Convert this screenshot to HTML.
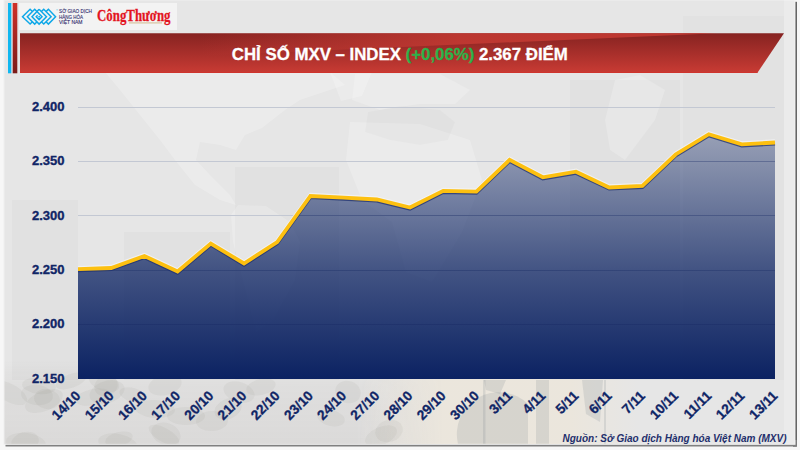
<!DOCTYPE html>
<html><head><meta charset="utf-8">
<style>
html,body{margin:0;padding:0;width:800px;height:450px;overflow:hidden;background:#f7f7f7;}
svg{position:absolute;left:0;top:0;display:block;}
text{font-family:"Liberation Sans",sans-serif;}
</style></head>
<body>
<svg width="800" height="450" viewBox="0 0 800 450">
<defs>
  <linearGradient id="ban" x1="0" y1="0" x2="0" y2="1">
    <stop offset="0" stop-color="#862321"/>
    <stop offset="1" stop-color="#c93b34"/>
  </linearGradient>
  <linearGradient id="redbar" x1="0" y1="0" x2="0" y2="1">
    <stop offset="0" stop-color="#cf3129"/>
    <stop offset="1" stop-color="#7a1c1a"/>
  </linearGradient>
  <linearGradient id="fill" x1="0" y1="107" x2="0" y2="379" gradientUnits="userSpaceOnUse">
    <stop offset="0" stop-color="#0b2262" stop-opacity="0.27"/>
    <stop offset="0.158" stop-color="#0b2262" stop-opacity="0.39"/>
    <stop offset="0.607" stop-color="#0b2262" stop-opacity="0.75"/>
    <stop offset="1" stop-color="#0b2262" stop-opacity="1"/>
  </linearGradient>
  <linearGradient id="gloss" x1="200" y1="0" x2="717" y2="0" gradientUnits="userSpaceOnUse">
    <stop offset="0" stop-color="#c43a33" stop-opacity="0"/>
    <stop offset="0.5" stop-color="#c43a33" stop-opacity="0.85"/>
    <stop offset="1" stop-color="#c43a33" stop-opacity="0.9"/>
  </linearGradient>
  <linearGradient id="btm" x1="0" y1="360" x2="0" y2="444" gradientUnits="userSpaceOnUse">
    <stop offset="0" stop-color="#7a7068" stop-opacity="0"/>
    <stop offset="0.3" stop-color="#7a7068" stop-opacity="0.06"/>
    <stop offset="1" stop-color="#7a7068" stop-opacity="0.1"/>
  </linearGradient>
  <linearGradient id="warm" x1="360" y1="0" x2="640" y2="0" gradientUnits="userSpaceOnUse">
    <stop offset="0" stop-color="#f7e6c6" stop-opacity="0"/>
    <stop offset="0.3" stop-color="#f7e6c6" stop-opacity="0.3"/>
    <stop offset="0.75" stop-color="#f7e6c6" stop-opacity="0.3"/>
    <stop offset="1" stop-color="#f7e6c6" stop-opacity="0"/>
  </linearGradient>
  <linearGradient id="fadeRg" x1="4" y1="0" x2="444" y2="0" gradientUnits="userSpaceOnUse">
    <stop offset="0.8" stop-color="#fff"/>
    <stop offset="1" stop-color="#000"/>
  </linearGradient>
  <mask id="fadeR" maskUnits="userSpaceOnUse" x="0" y="0" width="800" height="450"><rect x="0" y="0" width="800" height="450" fill="url(#fadeRg)"/></mask>
  <filter id="blur1" x="-5%" y="-5%" width="110%" height="110%"><feGaussianBlur stdDeviation="0.6"/></filter>
</defs>

<!-- panel -->
<rect x="793" y="1.8" width="3.9" height="444.8" fill="#555555" filter="url(#blur1)"/>
<rect x="5.5" y="440" width="791.3" height="6.5" fill="#808080" filter="url(#blur1)"/>
<rect x="4" y="0" width="791" height="444.3" fill="#e6e6e6"/>
<rect x="4" y="0" width="791" height="444.3" fill="none" stroke="#f0f0f0" stroke-width="1"/>
<!-- background textures -->
<g fill="#ffffff" fill-opacity="0.22">
  <polygon points="105,72 330,72 345,85 300,100 285,110 262,128 245,135 236,150 220,145 200,142 196,160 210,175 230,195 236,205 220,200 195,185 175,160 160,140 140,115 120,90"/>
  <polygon points="238,205 266,206 290,222 300,242 295,280 272,322 256,332 246,292 233,242 231,215"/>
  <polygon points="330,72 372,72 362,96 341,101"/>
  <polygon points="350,122 420,124 470,140 482,180 462,232 432,282 406,272 392,222 362,200 346,160"/>
</g>
<g fill="#000000" fill-opacity="0.018">
  <rect x="570" y="80" width="110" height="300"/>
  <rect x="235" y="167" width="104" height="213"/>
  <rect x="124" y="232" width="106" height="148"/>
  <rect x="12" y="200" width="66" height="180"/>
</g>
<g fill="#000000" fill-opacity="0.02">
  <polygon points="368,112 400,106 440,110 455,122 448,140 420,145 390,140 365,132"/>
</g>
<g fill="#ffffff" fill-opacity="0.2">
  <polygon points="615,80 640,75 665,90 655,120 640,140 625,160 610,150 605,120"/>
  <polygon points="355,74 440,74 470,90 455,104 420,104 380,110 352,100"/>
  <rect x="784" y="0" width="11" height="444"/>
</g>
<rect x="683" y="16" width="101" height="364" fill="#000" fill-opacity="0.015"/>

<rect x="4.5" y="360" width="440" height="84" fill="url(#btm)" mask="url(#fadeR)"/>
<clipPath id="pclip"><rect x="4.5" y="0" width="790" height="443.8"/></clipPath>
<rect x="360" y="379" width="280" height="65" fill="url(#warm)"/>
<g clip-path="url(#pclip)" fill="#4d5a70" fill-opacity="0.13">
  <path d="M458,444 A42,42 0 0 1 528,404 L528,444 Z"/>
  <rect x="536" y="380" width="13" height="64"/>
  <rect x="483" y="380" width="2.5" height="64"/>
  <polygon points="484,380 506,380 500,394 486,390"/>
  <polygon points="582,380 603,380 600,422 586,414"/>
  <rect x="604" y="380" width="2" height="64"/>
</g>
<g clip-path="url(#pclip)" fill="#6e6058" fill-opacity="0.06">
<ellipse cx="186" cy="416" rx="19" ry="9" transform="rotate(0 186 416)"/>
<ellipse cx="239" cy="392" rx="16" ry="10" transform="rotate(18 239 392)"/>
<ellipse cx="47" cy="399" rx="13" ry="10" transform="rotate(12 47 399)"/>
<ellipse cx="26" cy="443" rx="20" ry="10" transform="rotate(7 26 443)"/>
<ellipse cx="71" cy="381" rx="16" ry="7" transform="rotate(-19 71 381)"/>
<ellipse cx="104" cy="382" rx="16" ry="9" transform="rotate(21 104 382)"/>
<ellipse cx="212" cy="421" rx="16" ry="10" transform="rotate(-3 212 421)"/>
<ellipse cx="118" cy="444" rx="20" ry="10" transform="rotate(12 118 444)"/>
<ellipse cx="133" cy="395" rx="14" ry="7" transform="rotate(16 133 395)"/>
<ellipse cx="166" cy="434" rx="15" ry="11" transform="rotate(21 166 434)"/>
<ellipse cx="10" cy="393" rx="19" ry="9" transform="rotate(29 10 393)"/>
<ellipse cx="165" cy="385" rx="17" ry="10" transform="rotate(-14 165 385)"/>
<ellipse cx="44" cy="401" rx="20" ry="10" transform="rotate(-23 44 401)"/>
<ellipse cx="106" cy="386" rx="12" ry="10" transform="rotate(-19 106 386)"/>
<ellipse cx="228" cy="409" rx="14" ry="10" transform="rotate(-22 228 409)"/>
<ellipse cx="261" cy="387" rx="15" ry="8" transform="rotate(-14 261 387)"/>
<ellipse cx="389" cy="431" rx="14" ry="11" transform="rotate(-17 389 431)"/>
<ellipse cx="164" cy="435" rx="17" ry="7" transform="rotate(29 164 435)"/>
<ellipse cx="93" cy="397" rx="18" ry="8" transform="rotate(-12 93 397)"/>
<ellipse cx="39" cy="386" rx="17" ry="8" transform="rotate(6 39 386)"/>
<ellipse cx="155" cy="409" rx="20" ry="9" transform="rotate(4 155 409)"/>
<ellipse cx="348" cy="392" rx="13" ry="11" transform="rotate(19 348 392)"/>
<ellipse cx="107" cy="392" rx="18" ry="11" transform="rotate(-18 107 392)"/>
<ellipse cx="381" cy="436" rx="17" ry="9" transform="rotate(-24 381 436)"/>
<ellipse cx="25" cy="442" rx="14" ry="10" transform="rotate(-15 25 442)"/>
<ellipse cx="331" cy="418" rx="14" ry="8" transform="rotate(13 331 418)"/>
<ellipse cx="37" cy="395" rx="16" ry="10" transform="rotate(7 37 395)"/>
<ellipse cx="119" cy="439" rx="14" ry="7" transform="rotate(-14 119 439)"/>
</g>

<!-- left bars -->
<rect x="8" y="3" width="3.3" height="70.3" fill="#10b7f0"/>
<rect x="12.7" y="3" width="4.6" height="70.3" fill="url(#redbar)"/>

<!-- logo box -->
<rect x="19" y="3" width="158" height="27" fill="#f3f3f3"/>
<g fill="none" stroke="#0ea8e8" stroke-width="1.45" stroke-linejoin="miter">
  <polyline points="32.4,11.6 30.1,9.3 22.5,16.7 30.1,24.1 32.4,21.8"/>
  <polyline points="39.4,14 34.7,9.3 27.3,16.7 34.7,24.1 37.05,21.75"/>
  <polyline points="39.1,9.3 32,16.7 39.1,24.1 46.5,16.7 39.1,9.3"/>
  <polyline points="46.07,11.63 48.4,9.3 55.6,16.7 48.4,24.1 46.07,21.77"/>
  <polyline points="41.4,11.6 43.75,9.3 51.1,16.7 43.75,24.1 41.4,21.8"/>
  <polyline points="39.1,13.8 42,16.7 39.1,19.6 36.2,16.7 37.6,15.3"/>
</g>
<rect x="38.4" y="16" width="1.5" height="1.5" fill="#0ea8e8"/>
<rect x="56.3" y="9.6" width="1.8" height="0.6" fill="#5cc0e8"/>
<g fill="#2f2a6c" stroke="#2f2a6c" stroke-width="0.12" font-size="5.8">
  <text x="59" y="13.3" textLength="33" lengthAdjust="spacingAndGlyphs">SỞ GIAO DỊCH</text>
  <text x="59" y="18.6" textLength="24" lengthAdjust="spacingAndGlyphs">HÀNG HÓA</text>
  <text x="59" y="23.9" textLength="23.5" lengthAdjust="spacingAndGlyphs">VIỆT NAM</text>
</g>
<text x="97" y="20.8" font-family="Liberation Serif" font-weight="bold" font-size="17.5" fill="#e3151f" stroke="#e3151f" stroke-width="0.3" textLength="73.5" lengthAdjust="spacingAndGlyphs" style="font-family:'Liberation Serif',serif">CôngThương</text>
<rect x="129" y="22.3" width="33" height="1.2" fill="#d8c3a0"/>

<!-- banner -->
<polygon points="20,33.3 784,33.3 757.3,73 20,73" fill="url(#ban)"/>
<polygon points="20,72 758,72 757.3,73 20,73" fill="#d3302a" fill-opacity="0.6"/>
<polygon points="200,33.3 717,33.3 200,55.8" fill="url(#gloss)"/>
<text x="399.8" y="59.6" text-anchor="middle" font-size="17" textLength="336" lengthAdjust="spacingAndGlyphs" font-weight="bold" fill="#ffffff" stroke="#ffffff" stroke-width="0.3">CHỈ SỐ MXV – INDEX <tspan fill="#2db24a" stroke="#2db24a">(+0,06%)</tspan> 2.367 ĐIỂM</text>

<!-- gridlines -->
<g stroke="#c3c8d3" stroke-width="1">
  <line x1="78" y1="107.5" x2="775" y2="107.5"/>
  <line x1="78" y1="161.5" x2="775" y2="161.5"/>
  <line x1="78" y1="215.5" x2="775" y2="215.5"/>
  <line x1="78" y1="270.5" x2="775" y2="270.5"/>
  <line x1="78" y1="324.5" x2="775" y2="324.5"/>
</g>

<!-- y labels -->
<g fill="#102566" stroke="#102566" stroke-width="0.35" font-size="13" font-weight="bold" text-anchor="end">
  <text x="64.5" y="110.5">2.400</text>
  <text x="64.5" y="165">2.350</text>
  <text x="64.5" y="219.5">2.300</text>
  <text x="64.5" y="273.5">2.250</text>
  <text x="64.5" y="328">2.200</text>
  <text x="64.5" y="382.5">2.150</text>
</g>

<!-- area -->
<polygon fill="url(#fill)" points="78,379 78,269.1 111.2,268 144.4,256 177.6,271.5 210.8,243.5 244,263.5 277.2,242 310.4,196 343.6,197.7 376.8,199.5 410,207.5 443.2,190.8 476.4,191.7 509.6,159.9 542.8,177.3 576,171.7 609.2,187.5 642.4,186 675.6,154.5 708.8,134.2 741.8,144.4 775,142.5 775,379"/>
<clipPath id="aclip"><polygon points="78,379 78,269.1 111.2,268 144.4,256 177.6,271.5 210.8,243.5 244,263.5 277.2,242 310.4,196 343.6,197.7 376.8,199.5 410,207.5 443.2,190.8 476.4,191.7 509.6,159.9 542.8,177.3 576,171.7 609.2,187.5 642.4,186 675.6,154.5 708.8,134.2 741.8,144.4 775,142.5 775,379"/></clipPath>
<g stroke="#1a2a60" stroke-opacity="0.22" stroke-width="1" clip-path="url(#aclip)">
  <line x1="78" y1="161.5" x2="775" y2="161.5"/>
  <line x1="78" y1="215.5" x2="775" y2="215.5"/>
  <line x1="78" y1="270.5" x2="775" y2="270.5"/>
  <line x1="78" y1="324.5" x2="775" y2="324.5"/>
</g>
<polyline fill="none" stroke="#f4f4f4" stroke-opacity="0.8" stroke-width="3.5" transform="translate(0,-1.4)" points="78,269.1 111.2,268 144.4,256 177.6,271.5 210.8,243.5 244,263.5 277.2,242 310.4,196 343.6,197.7 376.8,199.5 410,207.5 443.2,190.8 476.4,191.7 509.6,159.9 542.8,177.3 576,171.7 609.2,187.5 642.4,186 675.6,154.5 708.8,134.2 741.8,144.4 775,142.5"/>
<polyline fill="none" stroke="#1f3270" stroke-opacity="0.75" stroke-width="3.6" stroke-linejoin="miter" transform="translate(0,1.3)" points="78,269.1 111.2,268 144.4,256 177.6,271.5 210.8,243.5 244,263.5 277.2,242 310.4,196 343.6,197.7 376.8,199.5 410,207.5 443.2,190.8 476.4,191.7 509.6,159.9 542.8,177.3 576,171.7 609.2,187.5 642.4,186 675.6,154.5 708.8,134.2 741.8,144.4 775,142.5"/>
<polyline fill="none" stroke="#fdc010" stroke-width="3.8" stroke-linejoin="miter" points="78,269.1 111.2,268 144.4,256 177.6,271.5 210.8,243.5 244,263.5 277.2,242 310.4,196 343.6,197.7 376.8,199.5 410,207.5 443.2,190.8 476.4,191.7 509.6,159.9 542.8,177.3 576,171.7 609.2,187.5 642.4,186 675.6,154.5 708.8,134.2 741.8,144.4 775,142.5"/>

<!-- x labels -->
<g fill="#0f2566" stroke="#0f2566" stroke-width="0.3" font-size="13.7" font-weight="bold" text-anchor="end" letter-spacing="0">
  <text transform="translate(81.5,396.5) rotate(-45)">14/10</text>
  <text transform="translate(114.7,396.5) rotate(-45)">15/10</text>
  <text transform="translate(147.9,396.5) rotate(-45)">16/10</text>
  <text transform="translate(181.1,396.5) rotate(-45)">17/10</text>
  <text transform="translate(214.3,396.5) rotate(-45)">20/10</text>
  <text transform="translate(247.5,396.5) rotate(-45)">21/10</text>
  <text transform="translate(280.7,396.5) rotate(-45)">22/10</text>
  <text transform="translate(313.9,396.5) rotate(-45)">23/10</text>
  <text transform="translate(347.1,396.5) rotate(-45)">24/10</text>
  <text transform="translate(380.3,396.5) rotate(-45)">27/10</text>
  <text transform="translate(413.5,396.5) rotate(-45)">28/10</text>
  <text transform="translate(446.7,396.5) rotate(-45)">29/10</text>
  <text transform="translate(479.9,396.5) rotate(-45)">30/10</text>
  <text transform="translate(513.1,396.5) rotate(-45)">3/11</text>
  <text transform="translate(546.3,396.5) rotate(-45)">4/11</text>
  <text transform="translate(579.5,396.5) rotate(-45)">5/11</text>
  <text transform="translate(612.7,396.5) rotate(-45)">6/11</text>
  <text transform="translate(645.9,396.5) rotate(-45)">7/11</text>
  <text transform="translate(679.1,396.5) rotate(-45)">10/11</text>
  <text transform="translate(712.3,396.5) rotate(-45)">11/11</text>
  <text transform="translate(745.3,396.5) rotate(-45)">12/11</text>
  <text transform="translate(778.5,396.5) rotate(-45)">13/11</text>
</g>

<!-- source -->
<text x="562.5" y="441.6" textLength="224" lengthAdjust="spacingAndGlyphs" font-size="10.6" font-weight="bold" font-style="italic" fill="#1f2f6c">Nguồn: Sở Giao dịch Hàng hóa Việt Nam (MXV)</text>
</svg>
</body></html>
